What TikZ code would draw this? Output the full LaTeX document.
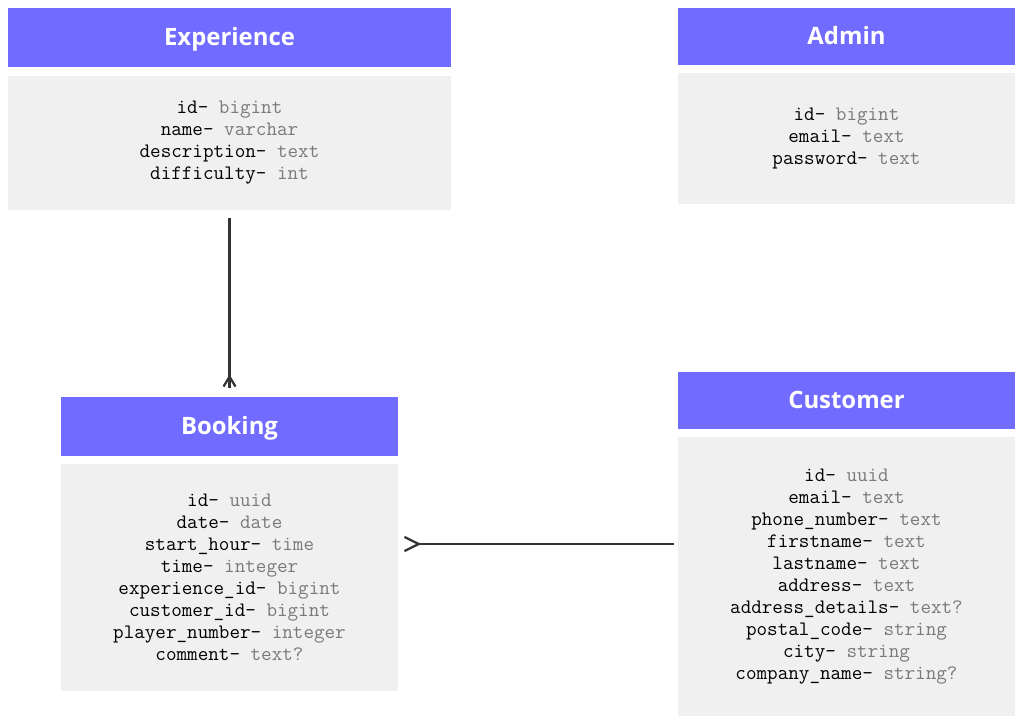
\documentclass[tikz,border=0pt]{standalone}
\usepackage{fontspec}
\newfontfamily\headfont{Open Sans}
\usetikzlibrary{arrows.meta}
\definecolor{headpurple}{HTML}{716BFF}
\definecolor{bodygray}{HTML}{F0F0F0}
\definecolor{typegray}{HTML}{7A7A7A}
\definecolor{linkgray}{HTML}{333333}
\newcommand{\fld}[2]{#1- {\color{typegray}#2}}
\tikzset{
	headbox/.style={fill=headpurple, text=white, inner sep=0pt, text height=12pt, text depth=0pt, font=\headfont\bfseries\fontsize{17pt}{20pt}\selectfont},
	bodybox/.style={fill=bodygray, text=black, inner sep=0pt, align=center, font=\ttfamily\fontsize{14.6pt}{15.65pt}\selectfont},
	link/.style={draw=linkgray, line width=1.6pt},
	crowv/.style={-{Straight Barb[reversed, length=7.1pt, width=8.5pt]}},
	crowh/.style={-{Straight Barb[reversed, length=10.2pt, width=10pt]}}
}
\begin{document}
\begin{tikzpicture}[x=0.025cm, y=-0.025cm]
				\useasboundingbox (0, 0) rectangle (1024, 725);
				\node[headbox, minimum width=11.075cm, minimum height=1.475cm] (ehead)at(229.5, 37.5) {Experience};
				\node[bodybox, minimum width=11.075cm, minimum height=3.35cm] (ebody)at(229.5, 143) {\fld{id}{bigint}\\\fld{name}{varchar}\\\fld{description}{text}\\\fld{difficulty}{int}};
				\node[headbox, minimum width=8.425cm, minimum height=1.425cm] (ahead)at(846.5, 36.5) {Admin};
				\node[bodybox, minimum width=8.425cm, minimum height=3.275cm] (abody)at(846.5, 138.5) {\fld{id}{bigint}\\\fld{email}{text}\\\fld{password}{text}};
				\node[headbox, minimum width=8.425cm, minimum height=1.475cm] (bhead)at(229.5, 426.5) {Booking};
				\node[bodybox, minimum width=8.425cm, minimum height=5.675cm] (bbody)at(229.5, 577.5) {\fld{id}{uuid}\\\fld{date}{date}\\\fld{start\_hour}{time}\\\fld{time}{integer}\\\fld{experience\_id}{bigint}\\\fld{customer\_id}{bigint}\\\fld{player\_number}{integer}\\\fld{comment}{text?}};
				\node[headbox, minimum width=8.425cm, minimum height=1.425cm] (chead)at(846.5, 400.5) {Customer};
				\node[bodybox, minimum width=8.425cm, minimum height=6.975cm] (cbody)at(846.5, 576.5) {\fld{id}{uuid}\\\fld{email}{text}\\\fld{phone\_number}{text}\\\fld{firstname}{text}\\\fld{lastname}{text}\\\fld{address}{text}\\\fld{address\_details}{text?}\\\fld{postal\_code}{string}\\\fld{city}{string}\\\fld{company\_name}{string?}};
				\draw[link, shorten <=0.2cm, shorten >=0.225cm] (ebody.south) -- (bhead.north);
				\draw[link, crowv, shorten <=0.2cm, shorten >=0.225cm] (ebody.south) -- (bhead.north);
				\draw[link, crowh, shorten <=0.1cm, shorten >=0.125cm] ([yshift=0.8125cm]cbody.west) -- ([yshift=0.8375cm]bbody.east);
			\end{tikzpicture}
\end{document}
